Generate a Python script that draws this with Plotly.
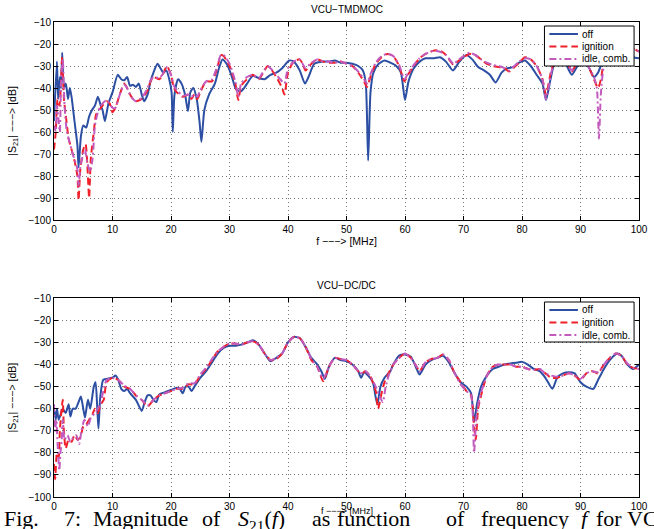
import plotly.graph_objects as go

# ---------------- data: VCU-TMDMOC (top) ----------------
top_off_f = [0,0.5,0.7,1.0,1.2,1.4,1.7,2.0,2.2,2.4,2.7,3.0,3.5,4.0,4.2,4.6,5.0,5.5,6.0,6.5,7.0,7.5,8.0,8.3,8.7,9.3,10,10.9,11.5,12,12.5,13,13.5,14,14.5,15,15.4,16,16.5,17,17.7,18.2,18.7,19.2,19.7,20.1,20.3,20.6,21.2,21.8,22.4,22.9,23.3,23.8,24.4,24.9,25.2,25.7,26.5,27.5,28.2,28.8,29.5,30.3,31.0,31.3,32,32.5,33,34,35,36,37,38,39,40.2,41,42,42.9,43.5,44.5,46,47,48,49,50,51,52,52.8,53.3,53.7,54.1,54.6,55.5,56.5,57.5,58.5,59.3,60,60.6,61.5,62.5,63.5,65,66,67,68.2,69.3,70.5,71.5,72.5,73.5,74.5,75.5,76.5,77.5,78.5,79.5,80.5,81.5,82.5,83.5,84.1,84.8,85.5,86.5,87.5,88.5,89.5,90.5,91.5,92.3,93,93.8,95,96,97,98,99,100]
top_off_v = [-55,-28,-45,-35,-40,-24,-40,-38,-41,-45,-40,-44,-55,-66,-76,-62,-57,-58,-53,-50,-48,-44,-48,-50,-55,-47,-42,-34,-36,-36.5,-35,-39,-38.5,-39.5,-38,-43,-46,-43,-37,-33,-29,-31,-33,-32,-36,-42,-60,-43,-36,-38,-43,-50.5,-42,-40,-45,-56,-64.5,-50,-43,-38,-31,-27,-29,-34,-40,-41,-41.5,-40,-38,-34.5,-35.5,-36,-34,-33,-31,-27.5,-28,-32,-38,-35,-29,-28,-28,-27.5,-28.5,-28.5,-29,-30,-32,-38,-73,-42,-33,-29,-27.5,-28.5,-30,-33,-45.5,-37,-31,-28,-26.5,-26.5,-26,-28,-32,-28,-25,-27,-30.5,-32,-34,-37.5,-33,-31,-30.5,-28.5,-27.5,-30,-34,-38,-45.5,-37,-29,-25,-29,-34,-30,-28,-31,-35,-33,-28,-25,-24,-24,-25,-26,-26.5]

top_ign_f = [0,0.3,0.6,0.9,1.1,1.4,1.7,2.0,2.5,3.0,3.5,4.0,4.2,4.5,5.0,5.4,5.7,6.0,6.3,6.8,7.2,8,9,9.5,10,10.5,11,11.5,12,12.5,13,13.5,14,15,16,16.5,17,18,18.5,19.3,20,20.5,21,22,23,23.5,24,24.5,25,26,27,28,28.5,29,30,31,31.5,32,33,34,35,36,36.5,37,38,39,39.4,40,41,42,42.5,43,44,45,46,47,48,49,50,51,52,53,53.5,54.2,55,56,57,58,59,59.9,60.5,61.5,62.5,63.5,65,66,67,68.3,69,70,71,72,73,74,75,76,77,77.8,78.5,79.5,80.5,81.5,82.5,83.5,84.1,85,85.7,86.5,87.5,88.5,89.5,90.5,91.5,92.3,93,93.5,94,95,96,97,98,99,100]
top_ign_v = [-68,-60,-45,-48,-43,-26,-45,-52,-63,-68,-73,-80,-91,-77,-68,-65.5,-75,-90,-72,-60,-52,-49,-46,-47,-51,-49,-45,-41,-38,-40,-43,-45,-46,-45,-41,-37,-35,-36,-34.5,-30,-34,-40,-42,-44,-43,-45,-43,-45,-42,-37,-37,-30,-25,-25.5,-30,-38,-45.5,-39,-36,-34,-36,-32,-30,-31,-35,-40,-43,-33,-28,-27,-29,-32,-29,-27,-28,-28.5,-28.5,-28,-29,-30,-33,-37,-39.5,-34,-29,-26,-24.5,-25.5,-30,-37,-34,-30,-26.5,-24.5,-23,-23,-25,-29.5,-28,-26,-24.5,-25,-27,-29,-30,-30.5,-31,-32.5,-31,-28.5,-26,-27,-30,-36,-43,-32,-27,-23,-27,-32.5,-28,-26,-31,-36,-40,-36,-28,-23,-21,-21,-21,-22,-23.5]

top_idle_f = [0,0.3,0.5,0.8,1.0,1.2,1.5,1.8,2.2,2.7,3.2,3.7,4.0,4.2,4.5,5.0,5.3,5.7,6.2,6.6,7.0,7.5,8,9,10,10.5,11,11.5,12,12.5,13,13.5,14,15,16,16.5,17,18,18.5,19.3,20,20.5,21,22,23,23.5,24,24.5,25,26,27,28,28.5,29,30,31,31.5,32,33,34,35,36,36.5,37,38,39,39.4,40,41,42,42.5,43,44,45,46,47,48,49,50,51,52,53,53.5,54.2,55,56,57,58,59,59.9,60.5,61.5,62.5,63.5,65,66,67,68.3,69,70,71,72,73,74,75,76,77,77.8,78.5,79.5,80.5,81.5,82.5,83.5,84.1,85,85.7,86.5,87.5,88.5,89.5,90.5,91.5,92.3,92.8,93.15,93.5,94,95,96,97,98,99,100]
top_idle_v = [-57,-60,-48,-55,-60,-38,-27,-48,-60,-65,-70,-74,-77,-85,-76,-70,-68,-74,-78,-72,-57,-51,-48,-45.5,-49,-49,-45,-41,-38.5,-40,-43,-45,-46,-44.5,-40,-36.5,-35,-35.5,-34,-30.5,-34,-39,-41,-43.5,-43,-44,-43,-44,-41,-37,-36,-29.5,-25,-25,-29,-37,-44,-38,-35,-34,-35.5,-31.5,-30,-31,-34,-37,-38,-31,-28,-27,-29,-31,-28.5,-27,-28,-28,-28.5,-28,-29,-30,-32.5,-36,-38,-33,-28.5,-25.5,-24.5,-25.5,-29.5,-36,-33.5,-29.5,-26.5,-24.5,-23,-23.5,-25,-29,-27.5,-25.5,-24,-25,-27,-28.5,-29.5,-30,-31,-32,-30.5,-28,-26.5,-27,-30,-36,-45,-33,-27,-23,-27,-32,-28,-26,-31,-35,-40,-63,-42,-30,-24,-21.5,-21,-21.5,-22,-23.5]

# ---------------- data: VCU-DC/DC (bottom) ----------------
bot_off_f = [0,0.3,0.5,0.8,1.2,1.5,2,2.5,2.8,3.2,3.7,4.2,4.6,5,5.3,5.8,6.2,6.8,7.1,7.4,7.6,7.9,8.4,9,10,10.5,11,11.5,12,12.5,13,14,15,15.5,16,16.5,17,17.5,18,19,20,21,21.5,22,22.5,23,23.5,24,25,26,27,28,29,30,31,32,33,34,35,36,37,38,39,40,41,42,43,44,45,45.7,46.3,47,48,49,50,51,52,52.5,53,53.7,54.5,55,55.3,55.8,56.5,57.5,58,59,60,61,62,62.5,63.5,64.5,65.5,66.5,67.5,68.5,69.5,70.5,71.3,71.8,72.3,73,74,75,76,77,78,79,80,81,82,83,84,85.2,86,87,88,89,90,91,92.2,93,94,95,96.3,97,98,99,100]
bot_off_v = [-60,-65,-60,-65,-62,-60,-62,-58,-63.5,-60,-60,-57,-54.5,-60,-64,-56,-60,-50,-48,-60,-69,-55,-47,-46.5,-46,-45,-47,-51,-52,-51,-53,-56,-61,-57,-54,-54,-56,-57,-53.5,-52.5,-51.5,-50.5,-51,-53,-50,-50,-52,-50,-46,-43,-39,-35,-32.5,-31.5,-31.5,-31,-30,-29,-31,-35,-38.5,-37,-35,-30,-27.5,-28,-32,-37,-40,-43,-46.5,-41,-37,-38,-38.5,-40,-43,-46,-43.5,-45,-48,-55,-58,-50,-46,-43,-40,-36,-35.5,-36.5,-42,-44.5,-40,-38,-37,-36,-39,-44,-48,-50,-53,-66,-58,-50,-45,-42,-41,-40,-39.5,-39.2,-38.8,-40,-42,-43,-46,-51,-46,-44,-43.5,-44,-48,-50,-51,-47,-42,-38,-35,-36,-40,-42,-40]

bot_ign_f = [0,0.2,0.5,0.8,1.0,1.3,1.5,1.7,2,2.5,3,3.5,4,4.5,5,5.5,6,6.5,7,7.5,8,8.5,9,10,11,12,13,14,15,16,17,18,19,20,21,22,23,24,25,26,27,28,29,30,31,32,33,34,35,36,37,38,39,40,41,42,43,44,45,46,47,48,49,50,51,52,52.7,53.2,54,55,55.4,56,56.5,57,58,59,60,61,62,62.5,63.5,64.5,65.5,66.5,67.5,68.5,69.5,70.5,71.3,71.8,72.1,72.5,73.2,74,75,76,77,78,79,80,81,82,83,84,85,86,87,88,89,90,91,92,93,94,95,96,97,98,99,100]
bot_ign_v = [-85,-92,-80,-82,-70,-60,-56,-70,-78,-74,-75,-72,-74,-73,-68,-67,-65,-63,-60,-62,-58,-56,-48,-46,-47,-50,-51,-54,-56,-59,-56,-54,-53,-52,-51,-51,-49,-49,-45,-42,-38,-34,-32,-30.5,-30.5,-31,-30,-29.5,-31,-35,-38,-37.5,-35,-30,-27.5,-28,-32,-38,-41,-47.5,-41,-37,-37.5,-38,-40,-43,-44,-43,-45,-52,-60,-53,-48,-45,-40,-37,-35,-37,-41,-43,-39,-37.5,-37,-35.5,-38,-44,-48,-52,-54,-68,-74,-60,-52,-45,-41,-40,-40,-40,-41,-41,-42,-42.5,-42,-44,-46,-46,-45,-44,-45,-47,-44,-43,-44,-40,-37,-35,-36,-40,-41.5,-42]

bot_idle_f = [0,0.2,0.4,0.6,0.9,1.1,1.3,1.5,1.8,2.3,2.8,3.3,3.8,4.3,4.7,5.2,5.8,6.3,7,7.5,8,8.6,9,10,11,12,13,14,15,16,17,18,19,20,21,22,23,24,25,26,27,28,29,30,31,32,33,34,35,36,37,38,39,40,41,42,43,44,45,46,47,48,49,50,51,52,52.7,53.2,54,55,55.6,56.2,56.7,57.2,58,59,60,61,62,62.5,63.5,64.5,65.5,66.5,67.5,68.5,69.5,70.5,71.3,71.8,72.2,72.6,73.2,74,75,76,77,78,79,80,81,82,83,84,85,86,87,88,89,90,91,92,93,94,95,96,97,98,99,100]
bot_idle_v = [-58,-70,-65,-75,-88,-80,-75,-65,-74,-72,-75,-73,-72,-76,-70,-65,-68,-64,-62,-60,-57,-50,-47,-46,-47,-49.5,-51,-54,-56,-58.5,-56,-54,-53,-52,-51,-50.5,-48.5,-48.5,-44.5,-41.5,-37.5,-34,-32,-30.5,-30.5,-31,-30,-29.5,-31,-35,-38,-37,-35,-30,-27.5,-28,-32,-37.5,-41,-46.5,-41,-37,-37.5,-38,-40,-43,-44,-43,-45,-50,-54,-57,-50,-45,-40,-37,-35,-37,-41,-43,-39,-37.5,-37,-35.5,-38,-44,-49,-52,-54,-80,-64,-57,-51,-45,-41,-40,-40,-40,-41,-41,-42,-42.5,-42,-44,-45,-45.5,-45,-44,-45,-46.5,-44,-43,-43.5,-40,-37,-35,-36,-39.5,-41.5,-42]

series_names = ["off", "ignition", "idle, comb."]
titles = ["VCU\u2212TMDMOC", "VCU\u2212DC/DC"]
x_title = "f \u2212\u2212\u2212> [MHz]"
y_title = "|S<sub>21</sub>| \u2212\u2212\u2212> [dB]"
x_ticks = [0, 10, 20, 30, 40, 50, 60, 70, 80, 90, 100]
y_ticks = [-10, -20, -30, -40, -50, -60, -70, -80, -90, -100]

colors = ["#2c4fa3", "#f0202a", "#c25bbd"]
dashes = ["solid", "7px,4px", "7px,3px,2px,3px"]

# figure geometry (pixels)
W, H = 654, 529
ML, MR, MT, MB = 54, 6, 22, 32
PW, PH = W - ML - MR, H - MT - MB

def px_x(p):
    return (p - ML) / PW

def px_y(p):
    return (H - MB - p) / PH

fig = go.Figure()
data = [
    [(top_off_f, top_off_v), (top_ign_f, top_ign_v), (top_idle_f, top_idle_v)],
    [(bot_off_f, bot_off_v), (bot_ign_f, bot_ign_v), (bot_idle_f, bot_idle_v)],
]
for p, panel in enumerate(data):
    for i, (fx, fv) in enumerate(panel):
        fig.add_trace(go.Scatter(
            x=fx, y=fv, mode="lines", name=series_names[i], showlegend=False,
            line=dict(color=colors[i], width=2, dash=dashes[i], shape="spline", smoothing=0.6),
            xaxis="x" if p == 0 else "x2", yaxis="y" if p == 0 else "y2",
        ))

axis_common = dict(
    showline=True, mirror="ticks", linecolor="black", linewidth=1,
    ticks="inside", ticklen=4, tickcolor="black", showgrid=True,
    gridcolor="rgba(0,0,0,0.55)", griddash="1px,3px", gridwidth=1, zeroline=False,
    ticklabeloverflow="allow",
    tickfont=dict(family="Liberation Sans", size=10, color="black"),
)
xa = dict(axis_common, range=[0, 100], tickvals=x_ticks)
ya = dict(axis_common, range=[-100, -10], tickvals=y_ticks)
tfont = dict(family="Liberation Sans", size=10.5, color="black")

fig.update_layout(
    width=W, height=H,
    margin=dict(l=ML, r=MR, t=MT, b=MB),
    paper_bgcolor="white", plot_bgcolor="white",
    showlegend=False,
    xaxis=dict(xa, domain=[0, 1], anchor="y",
               title=dict(text=x_title, font=tfont, standoff=1)),
    yaxis=dict(ya, domain=[px_y(220), 1], anchor="x",
               title=dict(text=y_title, font=tfont, standoff=9)),
    xaxis2=dict(xa, domain=[0, 1], anchor="y2"),
    yaxis2=dict(ya, domain=[0, px_y(298.3)], anchor="x2",
                title=dict(text=y_title, font=tfont, standoff=9)),
)

# subplot titles
for t, ypos in zip(titles, [1.0, px_y(298.3)]):
    fig.add_annotation(text=t, xref="paper", yref="paper", x=0.5, y=ypos, yshift=5,
                       xanchor="center", yanchor="bottom", showarrow=False,
                       font=dict(family="Liberation Sans", size=10, color="black"))

# hand-drawn legends (box, line samples, labels)
for top in [26, 302]:
    fig.add_shape(type="rect", xref="paper", yref="paper",
                  x0=px_x(552), x1=px_x(643), y0=px_y(top), y1=px_y(top + 40),
                  line=dict(color="black", width=1), fillcolor="white", layer="above")
    for i, name in enumerate(series_names):
        yy = top + 8 + 12.5 * i
        fig.add_shape(type="line", xref="paper", yref="paper",
                      x0=px_x(557), x1=px_x(586), y0=px_y(yy), y1=px_y(yy),
                      line=dict(color=colors[i], width=2, dash=dashes[i]), layer="above")
        fig.add_annotation(text=name, xref="paper", yref="paper", x=px_x(589), y=px_y(yy),
                           xanchor="left", yanchor="middle", showarrow=False, borderpad=0,
                           font=dict(family="Liberation Sans", size=10, color="black"))

# caption (partially cut at the bottom like the reference)
caption_words = ["Fig.", "7:", "Magnitude", "of", "<i>S</i><sub>21</sub>(<i>f</i>)", "as", "function", "of",
                 "frequency", "<i>f</i>", "for", "VCU"]
caption_x = [2, 63, 93, 203, 240, 315, 340, 451, 487, 588, 603, 635]
for w, px in zip(caption_words, caption_x):
    fig.add_annotation(text=w, xref="paper", yref="paper", x=px_x(px), y=px_y(505),
                       xanchor="left", yanchor="top", showarrow=False, borderpad=0,
                       font=dict(family="Liberation Serif", size=22, color="black"))

# bottom x-axis title, squeezed between tick labels and caption as in the reference
fig.add_annotation(text=x_title, xref="paper", yref="paper", x=0.5, y=px_y(511),
                   xanchor="center", yanchor="middle", showarrow=False, borderpad=0,
                   font=dict(family="Liberation Sans", size=9, color="black"))

fig.write_html("out.html")
